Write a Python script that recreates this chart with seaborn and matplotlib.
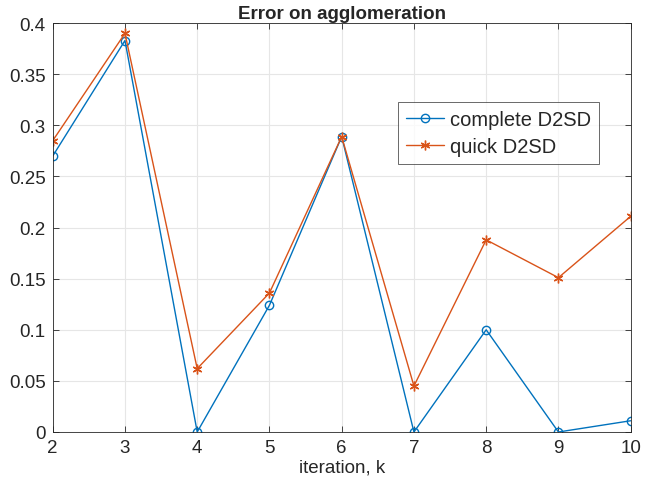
import pandas as pd
import seaborn as sns
import matplotlib.pyplot as plt

# values
iteration = [2, 3, 4, 5, 6, 7, 8, 9, 10]
complete_d2sd = [0.270, 0.383, 0.000, 0.124, 0.289, 0.000, 0.100, 0.000, 0.011]
quick_d2sd = [0.285, 0.390, 0.062, 0.136, 0.289, 0.045, 0.188, 0.151, 0.211]

sns.set_style('white')
plt.rcParams['font.family'] = ['Liberation Sans', 'DejaVu Sans']

df = pd.DataFrame({'k': iteration, 'complete': complete_d2sd, 'quick': quick_d2sd})

fig = plt.figure(figsize=(6.59, 4.81), dpi=100)
ax = fig.add_axes([0.080, 0.0998, 0.877, 0.850])

sns.lineplot(data=df, x='k', y='complete', ax=ax, color='#0072BD', marker='o',
             markersize=6, markerfacecolor='none', markeredgecolor='#0072BD',
             markeredgewidth=1.0, linewidth=1.0, label='complete D2SD')
sns.lineplot(data=df, x='k', y='quick', ax=ax, color='#D95319', marker=(6, 2, 0),
             markersize=7, markeredgecolor='#D95319', markeredgewidth=1.0,
             linewidth=1.0, label='quick D2SD')

ax.set_xlim(2, 10)
ax.set_ylim(0, 0.4)
ax.set_xticks(iteration)
ax.set_yticks([0, 0.05, 0.1, 0.15, 0.2, 0.25, 0.3, 0.35, 0.4])
ax.set_yticklabels(['0', '0.05', '0.1', '0.15', '0.2', '0.25', '0.3', '0.35', '0.4'])
ax.tick_params(labelsize=13.5, colors='#262626', direction='in', length=4,
               top=True, right=True, bottom=True, left=True, width=0.6, pad=5)
ax.grid(True, color='#e6e6e6', linewidth=0.8)
for s in ax.spines.values():
    s.set_color('#262626')
    s.set_linewidth(0.6)

ax.set_xlabel('iteration, k', size=13.5, color='#262626', labelpad=2)
ax.set_ylabel('')
ax.set_title('Error on agglomeration', size=13.5, fontweight='bold', pad=4)

leg = ax.legend(loc='upper left', bbox_to_anchor=(0.597, 0.807), fontsize=14.5,
                frameon=True, fancybox=False, edgecolor='#262626',
                handlelength=1.9, borderpad=0.4, labelspacing=0.4,
                handletextpad=0.3, borderaxespad=0)
leg.get_frame().set_linewidth(0.6)

fig.savefig('out.png', dpi=100)
